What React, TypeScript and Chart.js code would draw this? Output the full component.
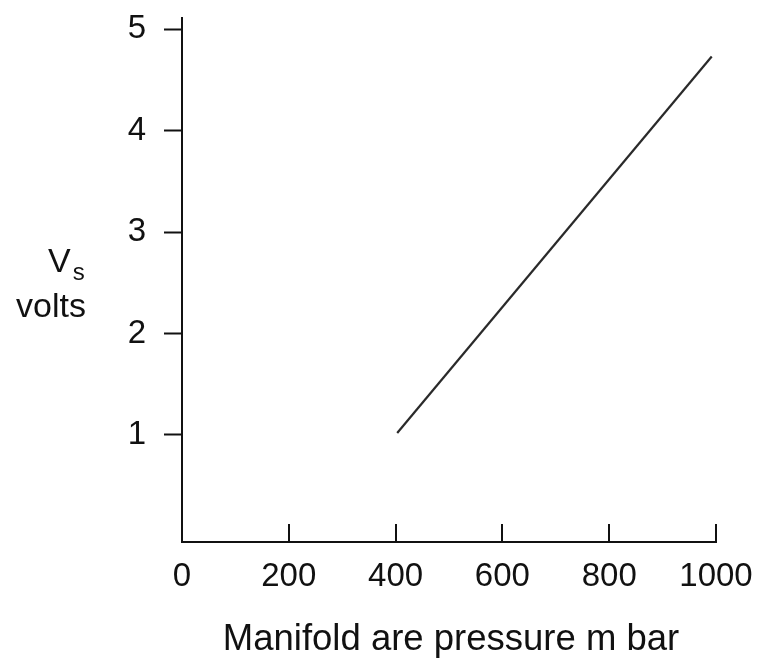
import React, { useEffect, useRef } from "react";
import { Chart, registerables } from "chart.js";

Chart.register(...registerables);

const pressure = [403, 992];
const voltage = [1.02, 4.73];
const xTickValues = [0, 200, 400, 600, 800, 1000];
const yTickValues = [1, 2, 3, 4, 5];
const xTitle = "Manifold are pressure m bar";
const yTitleMain = "V";
const yTitleSub = "s";
const yTitleUnit = "volts";

const FONT = "'Liberation Sans', Arial, Helvetica, sans-serif";
const INK = "#111111";

const zeroPad = (s: any) => {
  s.paddingTop = 0;
  s.paddingBottom = 0;
  s.paddingLeft = 0;
  s.paddingRight = 0;
};

export default function App() {
  const ref = useRef<HTMLCanvasElement | null>(null);

  useEffect(() => {
    if (!ref.current) return;
    const labelsPlugin = {
      id: "customLabels",
      afterDraw(chart: any) {
        const ctx = chart.ctx;
        const xs = chart.scales.x;
        const area = chart.chartArea;
        ctx.save();
        ctx.strokeStyle = INK;
        ctx.lineWidth = 2;
        xTickValues.forEach((v) => {
          if (v === 0) return;
          const px = Math.round(xs.getPixelForValue(v));
          ctx.beginPath();
          ctx.moveTo(px, area.bottom);
          ctx.lineTo(px, area.bottom - 18);
          ctx.stroke();
        });
        ctx.fillStyle = INK;
        ctx.font = `36.5px ${FONT}`;
        ctx.textAlign = "center";
        ctx.textBaseline = "alphabetic";
        ctx.fillText(xTitle, 451, 650);
        ctx.font = `34px ${FONT}`;
        ctx.textAlign = "left";
        ctx.fillText(yTitleMain, 48, 272);
        const vw = ctx.measureText(yTitleMain).width;
        ctx.font = `24px ${FONT}`;
        ctx.fillText(yTitleSub, 48 + vw + 2, 280);
        ctx.font = `34px ${FONT}`;
        ctx.textAlign = "right";
        ctx.fillText(yTitleUnit, 86, 317);
        ctx.restore();
      },
    };

    const chart = new Chart(ref.current, {
      type: "line",
      data: {
        datasets: [
          {
            data: pressure.map((p, i) => ({ x: p, y: voltage[i] })),
            borderColor: "#2a2a2a",
            borderWidth: 2.2,
            pointRadius: 0,
            fill: false,
          },
        ],
      },
      options: {
        animation: false,
        responsive: false,
        maintainAspectRatio: false,
        layout: { padding: { left: 0, right: 45, top: 18, bottom: 0 } },
        plugins: { legend: { display: false }, tooltip: { enabled: false } },
        scales: {
          x: {
            type: "linear",
            min: 0,
            max: 1000,
            afterBuildTicks: (s: any) => {
              s.ticks = xTickValues.map((v) => ({ value: v }));
            },
            afterFit: (s: any) => {
              s.height = 659 - 542;
              zeroPad(s);
            },
            grid: { display: true, drawOnChartArea: false, drawTicks: false },
            border: { display: true, color: INK, width: 2 },
            ticks: {
              color: INK,
              padding: 15,
              maxRotation: 0,
              autoSkip: false,
              callback: (v: any) => String(v),
              font: { family: FONT, size: 33 },
            },
          },
          y: {
            type: "linear",
            min: -0.055,
            max: 5.11,
            afterBuildTicks: (s: any) => {
              s.ticks = yTickValues.map((v) => ({ value: v }));
            },
            afterFit: (s: any) => {
              s.width = 182;
              zeroPad(s);
            },
            grid: {
              display: true,
              drawOnChartArea: false,
              drawTicks: true,
              tickLength: 18,
              tickColor: INK,
              tickWidth: 2,
            },
            border: { display: true, color: INK, width: 2 },
            ticks: {
              color: INK,
              padding: 18,
              autoSkip: false,
              callback: (v: any) => String(v),
              font: { family: FONT, size: 33 },
            },
          },
        },
      },
      plugins: [labelsPlugin],
    } as any);
    return () => chart.destroy();
  }, []);

  return (
    <div style={{ position: "fixed", left: 0, top: 0, width: 761, height: 659, background: "#fff" }}>
      <canvas ref={ref} width={761} height={659} style={{ width: 761, height: 659 }} />
    </div>
  );
}
